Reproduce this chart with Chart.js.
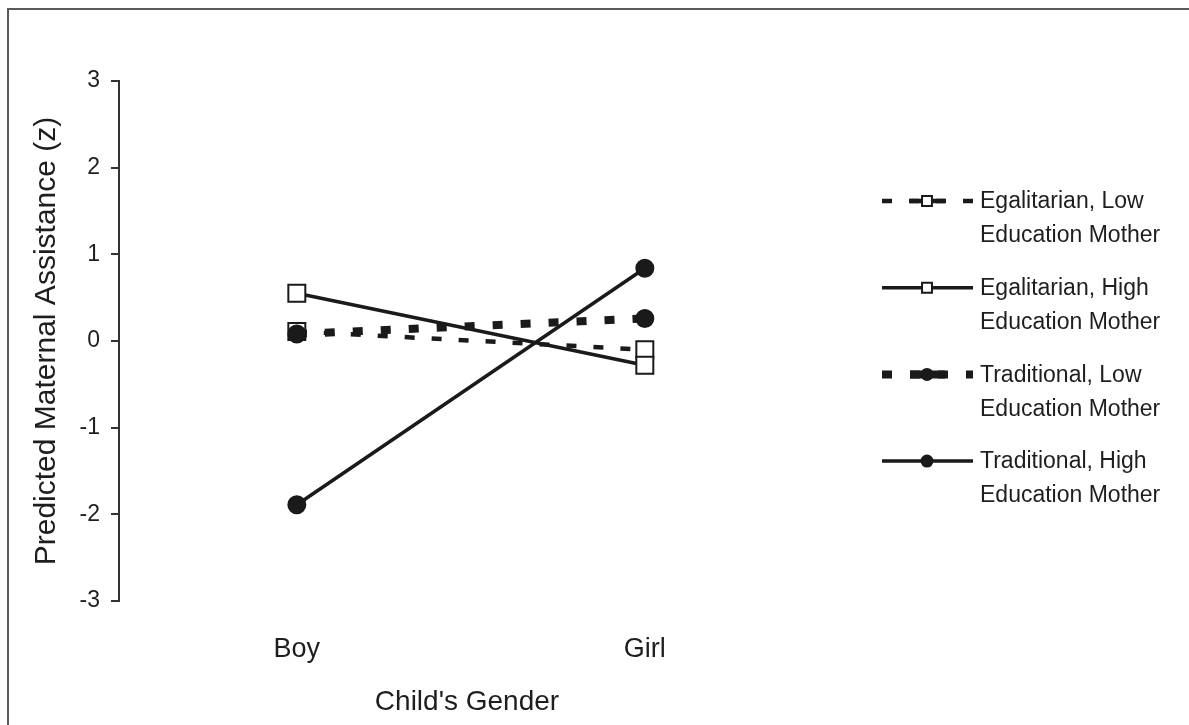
<!DOCTYPE html>
<html>
<head>
<meta charset="utf-8">
<script src="https://cdn.jsdelivr.net/npm/chart.js@4.4.0/dist/chart.umd.min.js"></script>
<style>
  html, body { margin: 0; padding: 0; background: #fff; overflow: hidden; }
  #frame { position: absolute; left: 7px; top: 8px; width: 1300px; height: 900px; border: 2px solid #5a5a5a; }
  #wrap { position: absolute; left: 0; top: 0; width: 1189px; height: 725px; }
</style>
</head>
<body>
<div id="frame"></div>
<div id="wrap"><canvas id="chart"></canvas></div>
<script>
const categories = ["Boy", "Girl"];
const egalitarianLow = [0.11, -0.10];
const egalitarianHigh = [0.55, -0.28];
const traditionalLow = [0.08, 0.26];
const traditionalHigh = [-1.89, 0.84];
const yTicks = [-3, -2, -1, 0, 1, 2, 3];
const legendLines = [
  ["Egalitarian, Low", "Education Mother"],
  ["Egalitarian, High", "Education Mother"],
  ["Traditional, Low", "Education Mother"],
  ["Traditional, High", "Education Mother"],
];

const FONT = "'Liberation Sans', Arial, sans-serif";
const INK = "#1a1a1a";
const TEXT = "#1e1e1e";

// categories sit at x = 0, 1 on a linear axis
function series(i, values, opts) {
  return Object.assign({
    label: legendLines[i].join(" "),
    data: values.map((v, k) => ({ x: k, y: v })),
    borderColor: INK,
    borderCapStyle: "butt",
    pointBorderColor: INK,
    pointBorderWidth: 2,
    pointHoverRadius: 0,
    fill: false,
    tension: 0,
  }, opts);
}

const datasets = [
  series(0, egalitarianLow, { borderWidth: 4.5, borderDash: [10, 17], pointStyle: "rect", pointRadius: 12, pointBackgroundColor: "#fff", legendRadius: 7, order: 3 }),
  series(1, egalitarianHigh, { borderWidth: 3.5, pointStyle: "rect", pointRadius: 12, pointBackgroundColor: "#fff", legendRadius: 7, order: 2 }),
  series(2, traditionalLow, { borderWidth: 8, borderDash: [10, 18], pointStyle: "circle", pointRadius: 8.5, pointBackgroundColor: INK, legendRadius: 5.5, order: 0 }),
  series(3, traditionalHigh, { borderWidth: 3.5, pointStyle: "circle", pointRadius: 8.5, pointBackgroundColor: INK, legendRadius: 5.5, order: 1 }),
];

// legend on the right: line sample with marker, two text lines
const sideLegend = {
  id: "sideLegend",
  afterDraw(chart) {
    const ctx = chart.ctx;
    chart.data.datasets.forEach((ds, i) => {
      const y = 201 + i * 86.7;
      ctx.save();
      ctx.strokeStyle = ds.borderColor;
      ctx.lineWidth = ds.borderWidth;
      ctx.lineCap = "butt";
      if (ds.borderDash) {
        ctx.setLineDash(ds.borderDash);
        ctx.lineDashOffset = 0;
      }
      ctx.beginPath();
      ctx.moveTo(882, y);
      ctx.lineTo(973, y);
      ctx.stroke();
      ctx.setLineDash([]);
      if (ds.borderDash) {
        ctx.beginPath();
        ctx.moveTo(910, y);
        ctx.lineTo(945, y);
        ctx.stroke();
      }
      ctx.fillStyle = ds.pointBackgroundColor;
      ctx.strokeStyle = ds.pointBorderColor;
      ctx.lineWidth = 2;
      Chart.helpers.drawPoint(ctx, { pointStyle: ds.pointStyle, radius: ds.legendRadius, borderWidth: 2, rotation: 0 }, 927, y);
      ctx.fillStyle = TEXT;
      ctx.font = "23px " + FONT;
      ctx.textAlign = "left";
      ctx.textBaseline = "middle";
      ctx.fillText(legendLines[i][0], 980, y + 1);
      ctx.fillText(legendLines[i][1], 980, y + 35);
      ctx.restore();
    });
  },
};

new Chart(document.getElementById("chart"), {
  type: "line",
  data: { datasets },
  plugins: [sideLegend],
  options: {
    responsive: true,
    maintainAspectRatio: false,
    animation: false,
    layout: { padding: { left: 0, top: 81, right: 374, bottom: 0 } },
    plugins: { legend: { display: false }, tooltip: { enabled: false } },
    scales: {
      x: {
        type: "linear",
        min: -0.511,
        max: 1.489,
        afterBuildTicks(scale) { scale.ticks = categories.map((c, k) => ({ value: k })); },
        grid: { display: false, drawTicks: false },
        border: { display: false },
        ticks: {
          color: TEXT,
          font: { family: FONT, size: 27 },
          padding: 32,
          callback: (v) => categories[v],
        },
        title: { display: true, text: "Child's Gender", color: TEXT, font: { family: FONT, size: 28 }, padding: { top: 0, bottom: 6 } },
        afterFit(scale) { scale.height = 124; },
      },
      y: {
        min: -3,
        max: 3,
        afterBuildTicks(scale) { scale.ticks = yTicks.map((v) => ({ value: v })); },
        grid: { drawOnChartArea: false, drawTicks: true, tickLength: 8, color: "#333", lineWidth: 2 },
        border: { display: true, color: "#333", width: 2 },
        ticks: { color: TEXT, font: { family: FONT, size: 23 }, padding: 11 },
        title: { display: true, text: "Predicted Maternal Assistance (z)", color: TEXT, font: { family: FONT, size: 30 }, padding: { top: 29, bottom: 0 } },
        afterFit(scale) { scale.width = 119; },
      },
    },
  },
});
</script>
</body>
</html>
